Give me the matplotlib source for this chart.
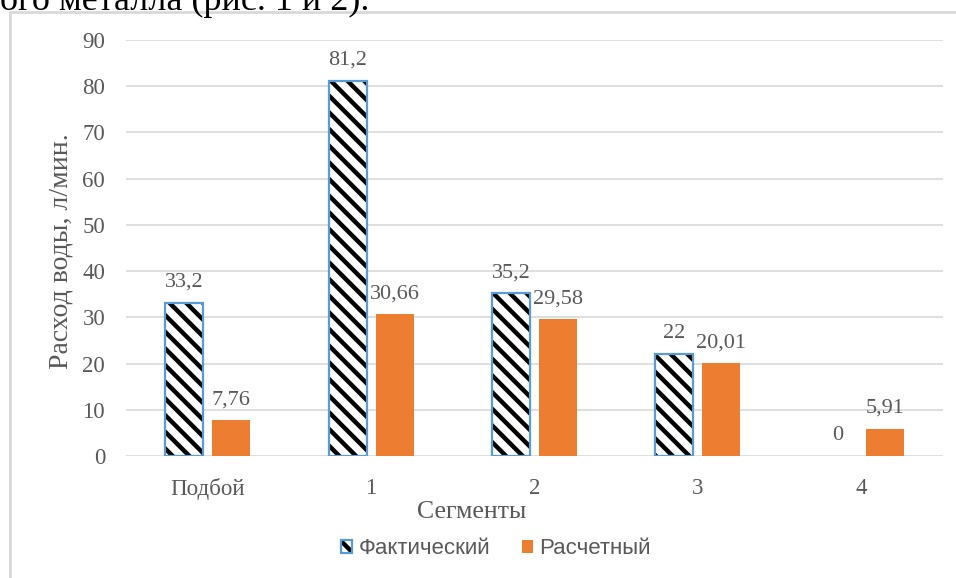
import matplotlib.pyplot as plt
import matplotlib.patches as mpatches
from matplotlib.legend_handler import HandlerTuple
import numpy as np

# water flow per segment, l/min
segments = ["Подбой", "1", "2", "3", "4"]
actual = [33.2, 81.2, 35.2, 22, 0]
calculated = [7.76, 30.66, 29.58, 20.01, 5.91]
yticks = [0, 10, 20, 30, 40, 50, 60, 70, 80, 90]

blue = "#5B9BD5"
orange = "#ED7D31"
grey = "#595959"
serif = "Liberation Serif"

plt.rcParams["hatch.linewidth"] = 3.2

fig = plt.figure(figsize=(9.56, 5.78), dpi=100)
ax = fig.add_axes([0.1318, 0.2111, 0.8546, 0.7197])

x = np.arange(len(segments))
w = 0.233
off = 0.144

# hatched bars: black stripes on white, blue outline on top
ax.bar(x - off, actual, w, color="white", edgecolor="black", hatch="\\\\",
       linewidth=0, zorder=2)
ax.bar(x - off, actual, w, fill=False, edgecolor=blue,
       linewidth=[1.6 if v > 0 else 0 for v in actual], zorder=3)
ax.bar(x + off, calculated, w, color=orange, linewidth=0, zorder=2)

def fmt(v):
    return f"{v:g}".replace(".", ",")

for xi, v in zip(x - off, actual):
    ax.annotate(fmt(v), (xi, v), xytext=(0, 11.5), textcoords="offset points",
                ha="center", va="baseline", fontsize=16, color=grey,
                family=serif)
for xi, v in zip(x + off, calculated):
    ax.annotate(fmt(v), (xi, v), xytext=(0, 11.5), textcoords="offset points",
                ha="center", va="baseline", fontsize=16, color=grey,
                family=serif)

ax.set_xlim(-0.5, len(segments) - 0.5)
ax.set_ylim(0, 90)
ax.set_yticks(yticks)
ax.set_xticks(x)
ax.set_xticklabels(segments)
for lab in ax.get_xticklabels() + ax.get_yticklabels():
    lab.set_family(serif)
    lab.set_fontsize(16.5)
    lab.set_color(grey)
ax.tick_params(length=0)
ax.tick_params(axis="y", pad=15)
ax.tick_params(axis="x", pad=16)
ax.yaxis.grid(True, color="#D9D9D9", linewidth=1.2, zorder=0)
ax.set_axisbelow(True)
for s in ax.spines.values():
    s.set_visible(False)

fig.text(61 / 956, 1 - 251 / 578, "Расход воды, л/мин.", rotation=90,
         ha="center", va="center", fontsize=20, color=grey, family=serif)
fig.text(472 / 956, 1 - 512 / 578, "Сегменты", ha="center", va="center",
         fontsize=18.5, color=grey, family=serif)

# legend
h1 = (mpatches.Patch(facecolor="white", edgecolor="black", hatch="\\\\", linewidth=0),
      mpatches.Patch(fill=False, edgecolor=blue, linewidth=1.6))
h2 = mpatches.Patch(facecolor=orange, linewidth=0)
leg = fig.legend([h1, h2], ["Фактический", "Расчетный"], loc="center",
                 bbox_to_anchor=(496 / 956, 1 - 549 / 578), ncol=2, frameon=False,
                 handler_map={tuple: HandlerTuple(ndivide=1, pad=0)},
                 handlelength=0.5, handleheight=0.5, handletextpad=0.3,
                 columnspacing=1.4, prop={"family": "Liberation Sans", "size": 16})
for t in leg.get_texts():
    t.set_color(grey)

# chart border and the end of the text line above it
fig.patches.append(mpatches.Rectangle((10 / 956, -0.1), 1.2, 1 - 12 / 578 + 0.1,
                                      transform=fig.transFigure, fill=False,
                                      edgecolor="#D9D9D9", linewidth=2))
fig.text(0, 1 - 10 / 578, "ого металла (рис. 1 и 2).", ha="left", va="baseline",
         fontsize=26, color="black", family=serif)

fig.savefig("out.png", dpi=100)
